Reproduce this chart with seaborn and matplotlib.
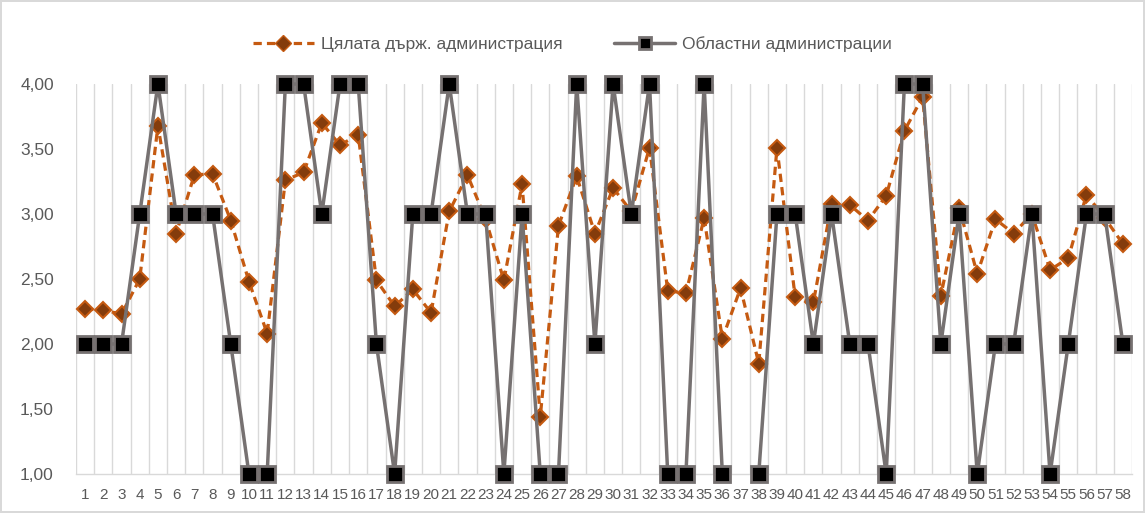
import numpy as np
import pandas as pd
import matplotlib
matplotlib.use("Agg")
import matplotlib.pyplot as plt
from matplotlib.lines import Line2D
import seaborn as sns

# ---- data ----
categories = list(range(1, 59))
whole_admin = [2.27, 2.26, 2.23, 2.50, 3.68, 2.85, 3.30, 3.31, 2.95, 2.48,
               2.08, 3.26, 3.32, 3.70, 3.53, 3.61, 2.49, 2.29, 2.42, 2.24,
               3.02, 3.30, 2.96, 2.49, 3.23, 1.44, 2.91, 3.29, 2.85, 3.20,
               3.02, 3.51, 2.41, 2.39, 2.97, 2.04, 2.43, 1.85, 3.51, 2.36,
               2.32, 3.08, 3.07, 2.95, 3.14, 3.64, 3.90, 2.37, 3.05, 2.54,
               2.96, 2.85, 3.00, 2.57, 2.66, 3.15, 2.97, 2.77]
regional_admin = [2, 2, 2, 3, 4, 3, 3, 3, 2, 1,
                  1, 4, 4, 3, 4, 4, 2, 1, 3, 3,
                  4, 3, 3, 1, 3, 1, 1, 4, 2, 4,
                  3, 4, 1, 1, 4, 1, np.nan, 1, 3, 3,
                  2, 3, 2, 2, 1, 4, 4, 2, 3, 1,
                  2, 2, 3, 1, 2, 3, 3, 2]
label_whole = "Цялата държ. администрация"
label_regional = "Областни администрации"
y_ticks = [1.0, 1.5, 2.0, 2.5, 3.0, 3.5, 4.0]

ORANGE = "#C55A11"
ORANGE_DARK = "#843C0C"
GREY = "#767171"
TEXT = "#595959"
GRID = "#D9D9D9"

sns.set_theme(style="white")
plt.rcParams['font.family'] = ['Liberation Sans', 'DejaVu Sans']

df_w = pd.DataFrame({"cat": categories, "val": whole_admin})
df_r = pd.DataFrame({"cat": categories, "val": regional_admin})
# split the regional series where a value is missing, so the line breaks there
df_r["seg"] = df_r["val"].isna().cumsum()
df_r = df_r.dropna()

fig = plt.figure(figsize=(11.45, 5.13), dpi=100)
ax = fig.add_axes([76 / 1145, 1 - 474 / 513, (1132 - 76) / 1145, (474 - 84) / 513])

sns.lineplot(data=df_w, x="cat", y="val", estimator=None, ax=ax, color=ORANGE,
             linewidth=2.3, linestyle=(0, (2.6, 1.6)), marker="D", markersize=8,
             markerfacecolor=ORANGE_DARK, markeredgecolor=ORANGE, markeredgewidth=1.5,
             clip_on=False, zorder=3)
sns.lineplot(data=df_r, x="cat", y="val", units="seg", estimator=None, ax=ax,
             color=GREY, linewidth=2.5, marker="s", markersize=11,
             markerfacecolor="black", markeredgecolor=GREY, markeredgewidth=2,
             clip_on=False, zorder=4)

ax.set_xlim(0.5, 58.5)
ax.set_ylim(1.0, 4.0)
ax.set_xticks(categories)
ax.set_xticklabels([str(c) for c in categories], fontsize=11, color=TEXT)
ax.set_xticks(np.arange(0.5, 59.0, 1.0), minor=True)
ax.set_yticks(y_ticks)
ax.set_yticklabels([f"{v:.2f}".replace(".", ",") for v in y_ticks], fontsize=12.5, color=TEXT)
ax.tick_params(axis="x", which="both", length=0, pad=10)
ax.tick_params(axis="y", length=0, pad=16)
ax.grid(False)
ax.grid(True, axis="x", which="minor", color=GRID, linewidth=1)
ax.set_xlabel("")
ax.set_ylabel("")
for s in ["top", "right", "left"]:
    ax.spines[s].set_visible(False)
ax.spines["bottom"].set_color(GRID)
ax.spines["bottom"].set_linewidth(1)

handles = [
    Line2D([], [], color=ORANGE, linewidth=2.3, linestyle=(0, (2.6, 1.6)), marker="D",
           markersize=8, markerfacecolor=ORANGE_DARK, markeredgecolor=ORANGE),
    Line2D([], [], color=GREY, linewidth=2.5, marker="s", markersize=9,
           markerfacecolor="black", markeredgecolor=GREY, markeredgewidth=2),
]
fig.legend(handles, [label_whole, label_regional], loc="center", bbox_to_anchor=(0.5, 1 - 44 / 513),
           ncol=2, frameon=False, fontsize=12.5, labelcolor=TEXT, handlelength=3.5,
           columnspacing=3.0, handletextpad=0.4)

fig.patch.set_edgecolor(GRID)
fig.patch.set_linewidth(1.5)
fig.savefig("out.png", dpi=100, edgecolor=fig.get_edgecolor())
